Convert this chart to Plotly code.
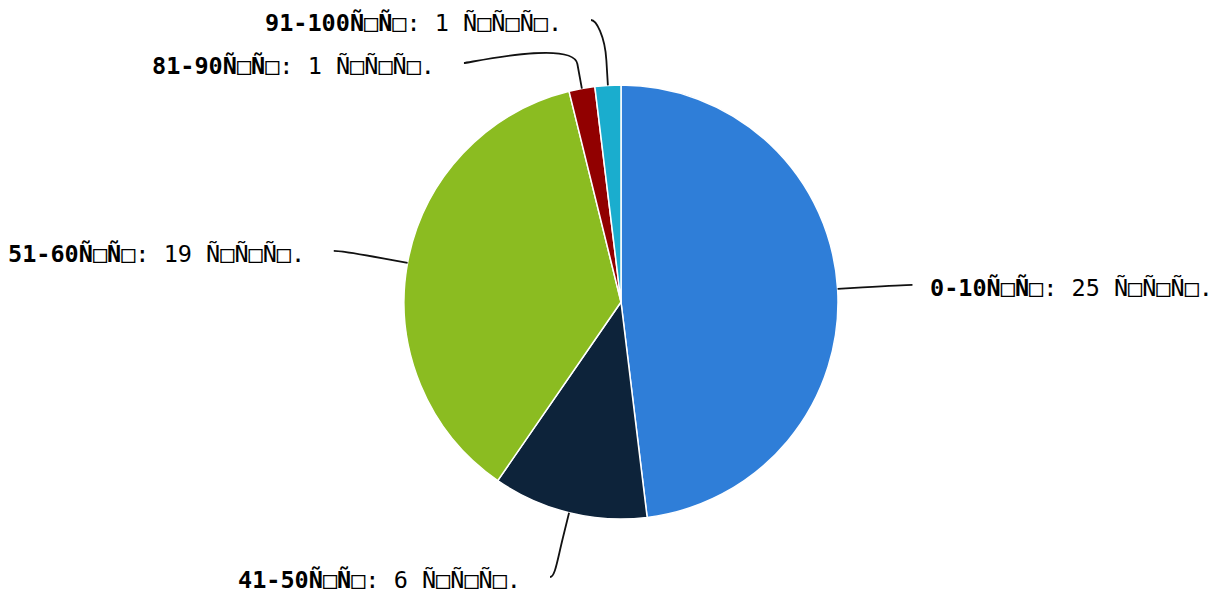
import math
import plotly.graph_objects as go

# ---- data ----
categories = ["0-10Ñ□Ñ□", "41-50Ñ□Ñ□", "51-60Ñ□Ñ□", "81-90Ñ□Ñ□", "91-100Ñ□Ñ□"]
values = [25, 6, 19, 1, 1]
unit = "Ñ□Ñ□Ñ□."
colors = ["#2f7ed8", "#0d233a", "#8bbc21", "#910000", "#1aadce"]

# ---- layout constants ----
W, H = 1222, 595
CX, CY, R = 621, 302, 217
RX_LAB, RY_LAB = R + 75, R + 66.5
CONN_OFF = 25
SPACING = 43
YMIN, YMAX = 20, 577
FONT = "DejaVu Sans Mono"
FSIZE = 23.5

def px(x):
    return x / W

def py(y):
    return 1 - y / H

fig = go.Figure(go.Pie(
    labels=categories, values=values, sort=False, direction="clockwise",
    rotation=0, textinfo="none", hoverinfo="label+value",
    marker=dict(colors=colors, line=dict(color="#ffffff", width=1.5)),
    domain=dict(x=[px(CX - R), px(CX + R)], y=[py(CY + R), py(CY - R)]),
    showlegend=False,
))

total = sum(values)
cum = 0
pts = []
for i, v in enumerate(values):
    mid = (cum + v / 2) / total * 2 * math.pi
    cum += v
    s, c = math.sin(mid), math.cos(mid)
    left = s < 0
    pts.append(dict(i=i, s=s, c=c, left=left, y=CY - RY_LAB * c))

for side in (True, False):
    grp = sorted([p for p in pts if p["left"] == side], key=lambda p: p["y"])
    prev = None
    for p in grp:
        lo = YMIN if prev is None else prev["y"] + SPACING
        p["y"] = max(p["y"], lo)
        prev = p
    nxt = None
    for p in reversed(grp):
        hi = YMAX if nxt is None else nxt["y"] - SPACING
        p["y"] = min(p["y"], hi)
        nxt = p

shapes, annotations = [], []
for p in pts:
    dy = p["y"] - CY
    f = max(0.0, 1 - (dy / RY_LAB) ** 2)
    ex = CX + (-1 if p["left"] else 1) * RX_LAB * math.sqrt(f)
    ey = p["y"]
    tx, ty = CX + R * p["s"], CY - R * p["c"]
    bx, by = CX + (R + CONN_OFF) * p["s"], CY - (R + CONN_OFF) * p["c"]
    c1x = ex + (5 if p["left"] else -5)
    c2x, c2y = 2 * bx - tx, 2 * by - ty
    path = (f"M {px(ex)},{py(ey)} C {px(c1x)},{py(ey)} {px(c2x)},{py(c2y)} "
            f"{px(bx)},{py(by)} L {px(tx)},{py(ty)}")
    shapes.append(dict(type="path", xref="paper", yref="paper", path=path,
                       line=dict(color="#111111", width=1.8)))
    i = p["i"]
    annotations.append(dict(
        xref="paper", yref="paper",
        x=px(ex - 27) if p["left"] else px(ex + 16), y=py(ey + 3),
        xanchor="right" if p["left"] else "left", yanchor="middle",
        showarrow=False,
        text=f"<b>{categories[i]}</b>: {values[i]} {unit}",
        font=dict(family=FONT, size=FSIZE, color="#000000"),
    ))

fig.update_layout(
    width=W, height=H, margin=dict(l=0, r=0, t=0, b=0),
    paper_bgcolor="#ffffff", plot_bgcolor="#ffffff",
    shapes=shapes, annotations=annotations,
)

fig.write_html("out.html", config={"displayModeBar": False},
               post_script="document.body.style.margin='0';")
